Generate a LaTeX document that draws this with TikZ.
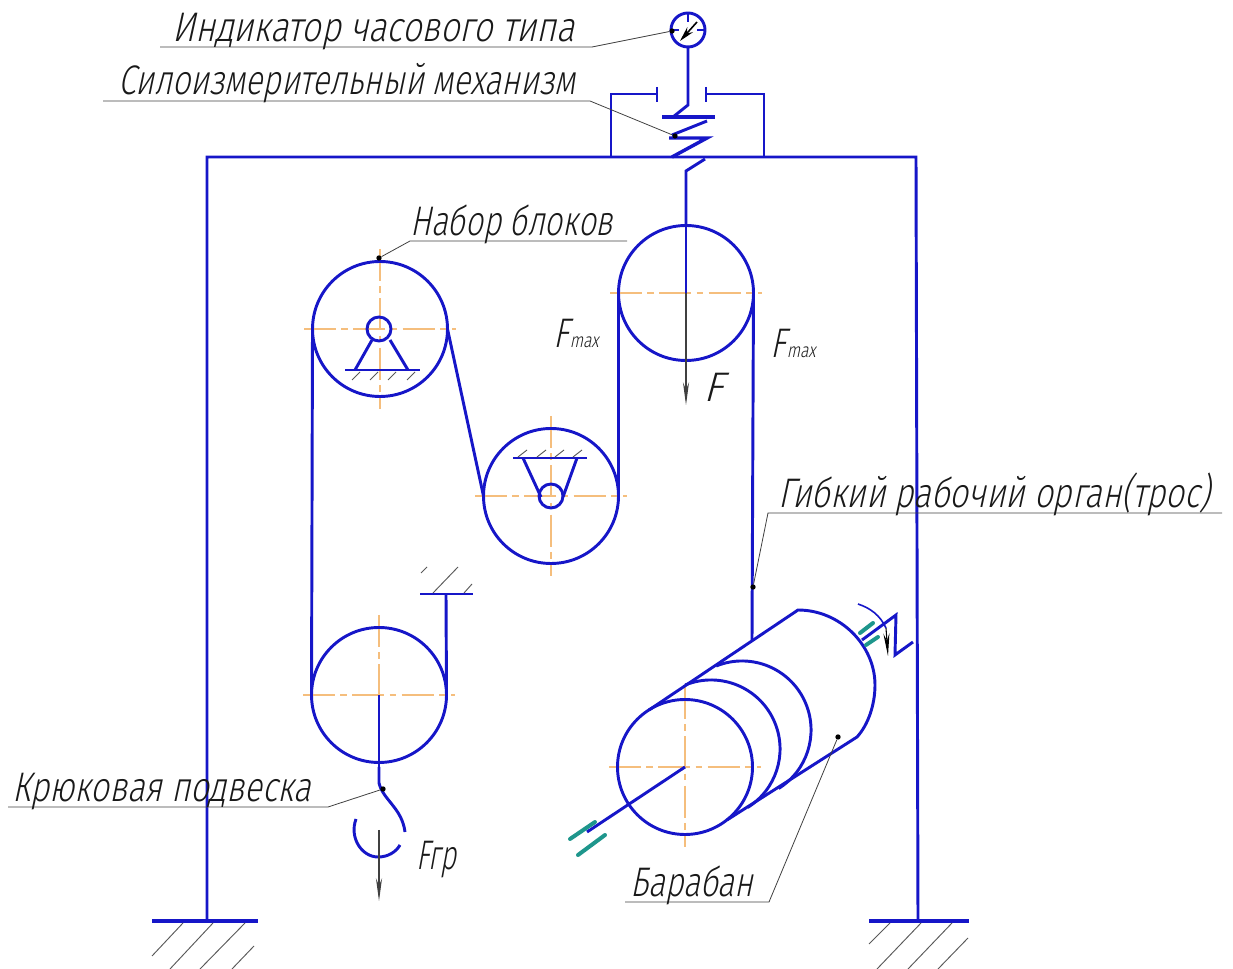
\documentclass[tikz,border=0pt]{standalone}
\usepackage{fontspec}
\usepackage{graphicx}
\setmainfont{Liberation Sans}
\newfontfamily\gostfont[FakeSlant=0.27]{Fira Sans Light}
\usepackage{xcolor}
\usetikzlibrary{arrows.meta,positioning,calc}
\definecolor{linkblue}{RGB}{22,22,200}
\definecolor{axisorange}{RGB}{245,190,125}
\definecolor{bearteal}{RGB}{30,150,140}
\tikzset{
  link/.style={draw=linkblue,line width=2.2pt},
  pulley/.style={circle,draw=linkblue,line width=2.2pt,minimum size=101.25pt,inner sep=0pt,outer sep=0pt},
  hinge/.style={circle,draw=linkblue,line width=2.2pt,minimum size=18pt,inner sep=0pt,outer sep=0pt},
  axisline/.style={draw=axisorange,line width=1pt,dash pattern=on 24pt off 4pt on 5pt off 4pt},
  bearing/.style={draw=bearteal,line width=3pt,line cap=round},
  hatch/.style={draw=black!65,line width=0.7pt},
  leader/.style={draw=black!75,line width=0.6pt},
  force/.style={-{Stealth[length=6mm,width=1.6mm]},draw=black!75,line width=0.8pt},
  pin/.style={circle,fill=black,inner sep=0pt,minimum size=4pt},
  caption/.style={font=\gostfont\fontsize{31}{31}\selectfont,text=black!90,inner sep=0pt,anchor=base west}
}
\begin{document}
\begin{tikzpicture}[x=0.75pt,y=-0.75pt]
    \useasboundingbox (0,0) rectangle (1233,969);
    % axis lines
    \foreach \cx/\cy in {380/329,551/496,686/293,379/695,685/767}{
      \draw[axisline] (\cx-76,\cy) -- (\cx+76,\cy);
      \draw[axisline] (\cx,\cy-80) -- (\cx,\cy+80);
    }
    % pulleys
    \node[pulley] (upper) at (380,329) {};
    \node[pulley] (middle) at (551,496) {};
    \node[pulley] (top) at (686,293) {};
    \node[pulley] (lower) at (379,695) {};
    \node[pulley] (drum) at (685,767) {};
    \node[hinge] (hingeU) at (379,329) {};
    \node[hinge] (hingeM) at (551,496) {};
    % frame
    \coordinate (footL) at (207,920);
    \coordinate (footR) at (918,920);
    \draw[link] (footL) -- (207,157) -- (916,157) -- (footR);
    \draw[link,line width=2.8pt] (152,921) -- (258,921);
    \draw[link,line width=2.8pt] (869,921) -- (969,921);
    \draw[hatch] (183,923) -- (152,956);
    \draw[hatch] (213,923) -- (170,969);
    \draw[hatch] (245,923) -- (200,969);
    \draw[hatch] (254,946) -- (232,969);
    \draw[hatch] (890,923) -- (869,944);
    \draw[hatch] (921,923) -- (877,969);
    \draw[hatch] (952,923) -- (908,969);
    \draw[hatch] (968,938) -- (938,969);
    % rope
    \coordinate (fixA) at (446,594);
    \coordinate (drumIn) at (752,640);
    \draw[link] (lower.west) -- (upper.west);
    \draw[link] (upper.east) -- (middle.west);
    \draw[link] (middle.east) -- (top.west);
    \draw[link] (top.east) -- (drumIn);
    \draw[link] (lower.east) -- (fixA);
    \draw[link] (420,594) -- (473,594);
    \draw[hatch] (421,573) -- (427,567);
    \draw[hatch] (433,593) -- (458,567);
    \draw[hatch] (464,593) -- (472,584);
    % supports
    \draw[link] (345,370) -- (420,370);
    \draw[link] (372,340) -- (355,370);
    \draw[link] (390,340) -- (408,370);
    \draw[link] (513,458) -- (587,458);
    \draw[link] (523,458) -- (541,497);
    \draw[link] (577,458) -- (563,497);
    \foreach \hx in {352,370,388,407}{
      \draw[hatch] (\hx,380) -- (\hx+8,372);
    }
    \foreach \hx in {518,537,555,573}{
      \draw[hatch] (\hx,457) -- (\hx+9,450);
    }
    % force sensor
    \node[circle,draw=linkblue,line width=2.2pt,minimum size=25.5pt,inner sep=0pt,outer sep=0pt] (gauge) at (688,30) {};
    \draw[link] (gauge.south) -- (688,105) -- (673,117);
    \draw[link] (gauge.north) -- ++(0,9);
    \draw[link] (gauge.west) -- ++(8,0);
    \draw[link] (gauge.east) -- ++(-8,0);
    \draw[-{Stealth[length=4mm,width=2mm]},draw=black,line width=1.2pt] (697,22) -- (680,41);
    \draw[link,line width=3pt] (662,117) -- (715,117);
    \draw[link] (707,121) -- (672,135);
    \draw[link,line width=2.6pt] (669,138) -- (707,138) -- (672,157);
    \draw[link] (705,159) -- (686,171) -- (top.north);
    \draw[link] (top.north) -- (686,293);
    \draw[link] (611,157) -- (611,94) -- (657,94);
    \draw[link] (657,87) -- (657,102);
    \draw[link] (764,157) -- (764,94) -- (706,94);
    \draw[link] (706,87) -- (706,102);
    \draw[force] (top.center) -- (686,405);
    % drum
    \draw[link] (649,710) -- (798,610) .. controls (840,610) and (875,645) .. (875,685)
      .. controls (875,705) and (868,725) .. (857,737) -- (727,820);
    \draw[link] (685.2,685) arc[start angle=-112,end angle=58,radius=69];
    \draw[link] (716.2,666) arc[start angle=-112,end angle=58,radius=69];
    \draw[link] (drum.center) -- (587,832);
    \draw[bearing] (570,839) -- (595,822);
    \draw[bearing] (578,855) -- (605,835);
    \draw[link] (862,640) -- (896,615) -- (895,655) -- (913,642);
    \draw[bearing] (860,633) -- (873,623);
    \draw[bearing] (866,645) -- (878,637);
    \draw[link,line width=1.2pt] (858,604) .. controls (870,608) and (880,615) .. (886,628);
    \draw[-{Stealth[length=6mm,width=1.6mm]},draw=black,line width=0.8pt] (886,628) -- (888,656);
    % hook
    \coordinate (hookTop) at (379,767);
    \draw[link] (lower.center) -- (hookTop);
    \draw[link] (hookTop) -- (379,783) .. controls (383,800) and (402,808) .. (405,832);
    \draw[link] (356,819) .. controls (349,838) and (362,857) .. (378,857) .. controls (388,857) and (396,852) .. (400,845);
    \draw[force] (379,830) -- (379,901);
    % captions
    \node[pin] (pinGauge) at (672,31) {};
    \node[pin] (pinSensor) at (675,136) {};
    \node[pin] (pinBlocks) at (379,258) {};
    \node[pin] (pinRope) at (753,587) {};
    \node[pin] (pinHook) at (383,789) {};
    \node[pin] (pinDrum) at (838,737) {};
    \coordinate (kneeGauge) at (592,47);
    \coordinate (kneeSensor) at (590,101);
    \coordinate (kneeBlocks) at (410,241);
    \coordinate (kneeRope) at (768,513);
    \coordinate (kneeHook) at (328,807);
    \coordinate (kneeDrum) at (769,902);
    \draw[leader] (160,47) -- (kneeGauge) -- (pinGauge);
    \draw[leader] (103,101) -- (kneeSensor) -- (pinSensor);
    \draw[leader] (627,241) -- (kneeBlocks) -- (pinBlocks);
    \draw[leader] (1222,513) -- (kneeRope) -- (pinRope);
    \draw[leader] (8,807) -- (kneeHook) -- (pinHook);
    \draw[leader] (625,902) -- (kneeDrum) -- (pinDrum);
    \node[caption] (capGauge) at (172,42) {\resizebox{302pt}{\height}{Индикатор часового типа}};
    \node[caption] (capSensor) at (118,95) {\resizebox{343pt}{\height}{Силоизмерительный механизм}};
    \node[caption] (capBlocks) at (410,236) {\resizebox{152pt}{\height}{Набор блоков}};
    \node[caption] (capRope) at (778,508) {\resizebox{324pt}{\height}{Гибкий рабочий орган(трос)}};
    \node[caption] (capHook) at (12,802) {\resizebox{224pt}{\height}{Крюковая подвеска}};
    \node[caption] (capDrum) at (630,896) {\resizebox{92pt}{\height}{Барабан}};
    \node[caption] (capFmaxL) at (553,348) {\resizebox{34pt}{\height}{F\hspace{1pt}\fontsize{15}{15}\selectfont max}};
    \node[caption] (capFmaxR) at (770,358) {\resizebox{34pt}{\height}{F\hspace{1pt}\fontsize{15}{15}\selectfont max}};
    \node[caption] (capF) at (703,402) {F};
    \node[caption] (capFgr) at (416,870) {\resizebox{30pt}{\height}{Fгр}};
  \end{tikzpicture}
\end{document}
